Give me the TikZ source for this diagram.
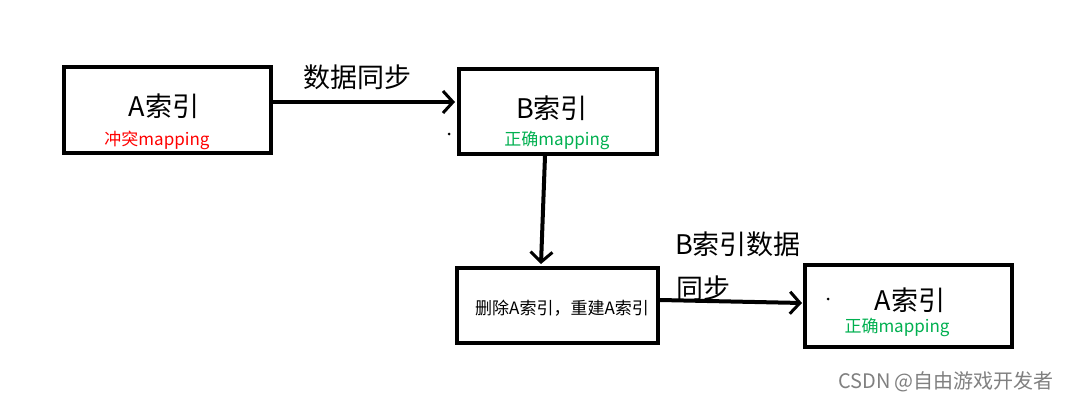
\documentclass[tikz,border=0pt]{standalone}
\usepackage{fontspec}
\setmainfont{Noto Sans CJK SC}
\usetikzlibrary{arrows.meta}
\begin{document}
\begin{tikzpicture}[x=1pt,y=-1pt,
  box/.style={draw,line width=4pt},
  arr/.style={line width=4pt,-{Straight Barb[length=10pt,width=22pt,line width=3pt]}},
  t/.style={font=\fontsize{27}{29}\selectfont},
  s/.style={font=\fontsize{17}{19}\selectfont}]
\useasboundingbox[fill=white] (0,0) rectangle (1067,401);
\node[box,minimum width=207pt,minimum height=86pt] (A) at (167.5,110) {};
\node[box,minimum width=198pt,minimum height=85pt] (B) at (558,111.5) {};
\node[box,minimum width=201pt,minimum height=75pt] (D) at (557.5,305.5) {};
\node[box,minimum width=207pt,minimum height=82pt] (A2) at (908.5,306) {};
\node[t] (at) at (164,106) {A索引};
\node[s,text=red] at (157,140) {冲突mapping};
\node[t] (bt) at (552,108) {B索引};
\node[s,text={rgb,255:red,0;green,176;blue,80}] at (557,140) {正确mapping};
\node[font=\fontsize{17}{19}\selectfont] at (562,308) {删除A索引，重建A索引};
\node[t] at (910,300) {A索引};
\node[s,text={rgb,255:red,0;green,176;blue,80}] at (897,327) {正确mapping};
\node[t] at (357,77) {数据同步};
\node[t] at (738,244) {B索引数据};
\node[t] at (703,288) {同步};
\fill (449,134) circle (1.5pt);
\fill (828,299) circle (1.5pt);
\coordinate (a1) at (273,102); \coordinate (b1) at (455,102);
\draw[arr] (a1) -- (b1);
\coordinate (a2) at (545,156); \coordinate (b2) at (541,264);
\draw[arr] (a2) -- (b2);
\coordinate (a3) at (660,300); \coordinate (b3) at (802,303);
\draw[arr] (a3) -- (b3);
\node[font=\fontsize{20}{22}\selectfont,text=gray] at (946,382) {CSDN @自由游戏开发者};
\end{tikzpicture}
\end{document}
